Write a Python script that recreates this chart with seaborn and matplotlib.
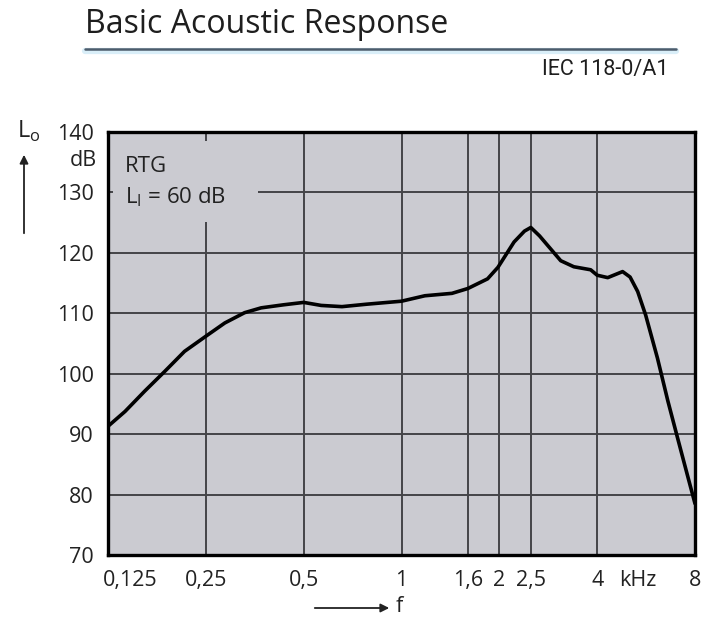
import matplotlib
matplotlib.use("Agg")
import matplotlib.pyplot as plt
import matplotlib.transforms as mtransforms
from matplotlib.patches import Rectangle, FancyArrowPatch
from matplotlib import font_manager
import seaborn as sns
import pandas as pd

# Frequency response of the hearing instrument (RTG, input level 60 dB)
freq_khz = [0.125, 0.141, 0.162, 0.187, 0.215, 0.25, 0.286, 0.329, 0.37, 0.433,
            0.5, 0.566, 0.656, 0.78, 1.0, 1.18, 1.43, 1.6, 1.84, 1.98,
            2.22, 2.39, 2.5, 2.66, 2.82, 3.09, 3.39, 3.82, 4.0, 4.31,
            4.79, 5.05, 5.33, 5.64, 6.13, 6.6, 7.1, 7.6, 8.0]
level_db = [91.3, 93.75, 97.1, 100.4, 103.7, 106.2, 108.4, 110.1, 110.9, 111.4,
            111.8, 111.3, 111.1, 111.5, 112.0, 112.9, 113.3, 114.1, 115.7, 117.6,
            121.8, 123.6, 124.2, 122.8, 121.2, 118.7, 117.7, 117.2, 116.3, 115.9,
            116.9, 116.0, 113.6, 109.7, 102.6, 95.5, 89.0, 83.0, 78.5]

x_ticks = [0.125, 0.25, 0.5, 1, 1.6, 2, 2.5, 4, 8]
x_tick_labels = ["0,125", "0,25", "0,5", "1", "1,6", "2", "2,5", "4", "8"]
y_ticks = [70, 80, 90, 100, 110, 120, 130, 140]

title = "Basic Acoustic Response"
standard = "IEC 118-0/A1"

sns.set_theme(style="white")
available = {f.name for f in font_manager.fontManager.ttflist}
base_font = "Open Sans" if "Open Sans" in available else "DejaVu Sans"
narrow_font = "Roboto" if "Roboto" in available else base_font
plt.rcParams["font.family"] = [base_font, "DejaVu Sans"]
plt.rcParams["mathtext.fontset"] = "custom"
plt.rcParams["mathtext.rm"] = base_font

bg = "#cbcbd1"
grid_col = "#444448"
txt_col = "#222222"

fig = plt.figure(figsize=(7.02, 6.21), dpi=100)
ax = fig.add_axes([108 / 702, 1 - 555 / 621, 587 / 702, 423 / 621])
ax.set_facecolor(bg)

df = pd.DataFrame({"f": freq_khz, "L": level_db})
sns.lineplot(data=df, x="f", y="L", ax=ax, color="black", linewidth=2.6,
             solid_joinstyle="round", solid_capstyle="round", zorder=3)

ax.set_xscale("log")
ax.set_xlim(0.125, 8)
ax.set_ylim(70, 140)
ax.set_xticks(x_ticks)
ax.set_xticklabels(x_tick_labels)
ax.minorticks_off()
ax.set_yticks(y_ticks)
ax.set_yticklabels([str(v) for v in y_ticks])
ax.set_xlabel("")
ax.set_ylabel("")
ax.tick_params(axis="both", length=0, labelsize=15.5, colors=txt_col)
ax.tick_params(axis="x", pad=11)
ax.tick_params(axis="y", pad=10)

ax.set_axisbelow(True)
ax.grid(True, color=grid_col, linewidth=1.4)
for s in ax.spines.values():
    s.set_visible(True)
    s.set_color("black")
    s.set_linewidth(2.4)

# first frequency label sits to the right of the axis corner
first = ax.get_xticklabels()[0]
first.set_transform(first.get_transform() +
                    mtransforms.ScaledTranslation(0.22, 0, fig.dpi_scale_trans))

# blank panel behind the annotation text
ax.add_patch(Rectangle((0.009, 0.787), 0.247, 0.192, transform=ax.transAxes,
                       facecolor=bg, edgecolor="none", zorder=1))
ax.text(125 / 702, 1 - 172 / 621, "RTG", transform=fig.transFigure,
        fontsize=16, color=txt_col, va="baseline", ha="left", zorder=2)
ax.text(125 / 702, 1 - 203 / 621, r"L$_\mathregular{I}$ = 60 dB",
        transform=fig.transFigure, fontsize=16, color=txt_col,
        va="baseline", ha="left", zorder=2)

# unit labels
fig.text(97 / 702, 1 - 160 / 621, "dB", fontsize=15.5, color=txt_col,
         ha="right", va="center")
fig.text(638 / 702, 1 - 580 / 621, "kHz", fontsize=15.5, color=txt_col,
         ha="center", va="center")

# axis quantity symbols with arrows
fig.text(17 / 702, 1 - 131 / 621, r"L$_\mathregular{o}$", fontsize=17,
         color=txt_col, ha="left", va="center")
fig.patches.append(FancyArrowPatch(
    (24 / 702, 1 - 236 / 621), (24 / 702, 1 - 152 / 621),
    transform=fig.transFigure, arrowstyle="-|>,head_length=5,head_width=2.5",
    color=txt_col, linewidth=1.3))
fig.patches.append(FancyArrowPatch(
    (312 / 702, 1 - 608 / 621), (392 / 702, 1 - 608 / 621),
    transform=fig.transFigure, arrowstyle="-|>,head_length=5,head_width=2.5",
    color=txt_col, linewidth=1.3))
fig.text(396 / 702, 1 - 607 / 621, "f", fontsize=15.5, color=txt_col,
         ha="left", va="center")

# heading with rule
fig.text(85 / 702, 1 - 33 / 621, title, fontsize=23, color="#1e1e1e",
         ha="left", va="baseline")
fig.add_artist(plt.Line2D([85 / 702, 676 / 702], [1 - 51 / 621, 1 - 51 / 621],
                          color="#d9eef8", linewidth=4.5))
fig.add_artist(plt.Line2D([85 / 702, 676 / 702], [1 - 48.5 / 621, 1 - 48.5 / 621],
                          color="#4d5c6c", linewidth=1.8))
fig.text(668 / 702, 1 - 75 / 621, standard, fontsize=15.5, family=[narrow_font],
         color="#1e1e1e", ha="right", va="baseline")

fig.savefig("out.png", dpi=100, facecolor="white")
